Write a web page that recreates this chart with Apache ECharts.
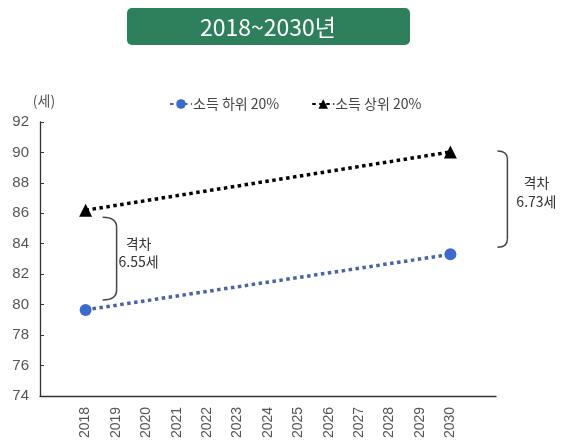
<!DOCTYPE html>
<html><head><meta charset="utf-8">
<script src="https://cdn.jsdelivr.net/npm/echarts@6/dist/echarts.min.js"></script>
<style>html,body{margin:0;padding:0;background:#fff}#c{width:565px;height:441px}</style>
</head><body><div id="c"></div>
<script>
const titleText = '2018~2030년';
const unitText = '(세)';
const years = ['2018','2019','2020','2021','2022','2023','2024','2025','2026','2027','2028','2029','2030'];
const lowerName = '소득 하위 20%';
const upperName = '소득 상위 20%';
const lowerValues = [79.65, null, null, null, null, null, null, null, null, null, null, null, 83.3];
const upperValues = [86.2, null, null, null, null, null, null, null, null, null, null, null, 90.03];
const gapLabels = ['격차\n6.55세', '격차\n6.73세'];
const yTicks = {min: 74, max: 92, interval: 2};

const cats = ['2017', ...years, '2031'];
const pad = v => [null, ...v, null];
const font = "'Liberation Sans','Noto Sans CJK KR',sans-serif";
const kfont = "'Noto Sans CJK KR','Liberation Sans',sans-serif";

const chart = echarts.init(document.getElementById('c'), null, {renderer: 'canvas'});
const option = {
  animation: false,
  backgroundColor: '#fff',
  grid: {left: 40, right: 69, top: 122, bottom: 44, containLabel: false},
  legend: {
    top: 92, left: 164, itemGap: 32, itemWidth: 22, itemHeight: 12,
    textStyle: {fontFamily: kfont, fontSize: 14, color: '#444', padding: [0,0,0,-4]},
    data: [lowerName, upperName]
  },
  xAxis: {
    type: 'category', data: cats, boundaryGap: true,
    axisLine: {lineStyle: {color: '#333', width: 1.3}},
    axisTick: {alignWithLabel: true, inside: true, length: 4, lineStyle: {color: '#333'}},
    axisLabel: {rotate: 90, margin: 11, fontSize: 14, color: '#555', fontFamily: font,
      formatter: v => (years.indexOf(v) >= 0 ? v : '')},
    splitLine: {show: false}
  },
  yAxis: {
    type: 'value', min: yTicks.min, max: yTicks.max, interval: yTicks.interval,
    axisLine: {show: true, lineStyle: {color: '#333', width: 1.3}},
    axisTick: {show: true, inside: true, length: 4, lineStyle: {color: '#333'}},
    axisLabel: {fontSize: 15, color: '#555', margin: 11, fontFamily: font},
    splitLine: {show: false}
  },
  series: [
    {name: lowerName, type: 'line', data: pad(lowerValues), connectNulls: true,
     symbol: 'circle', symbolSize: 12,
     itemStyle: {color: '#3C6BCB'},
     lineStyle: {color: '#4A63A8', width: 3.5, type: [3.5, 3.5]}},
    {name: upperName, type: 'line', data: pad(upperValues), connectNulls: true,
     symbol: 'triangle', symbolSize: 13,
     itemStyle: {color: '#000'},
     lineStyle: {color: '#000', width: 3.5, type: [3.5, 3.5]}}
  ]
};
chart.setOption(option);

const bstyle = {stroke: '#444', lineWidth: 1.5, fill: null};
function bracket(x0, x1, yTop, yBot, r) {
  return [
    {type: 'bezierCurve', silent: true, shape: {x1: x0, y1: yTop, cpx1: x1, cpy1: yTop, x2: x1, y2: yTop + r}, style: bstyle},
    {type: 'line', silent: true, shape: {x1: x1, y1: yTop + r, x2: x1, y2: yBot - r}, style: bstyle},
    {type: 'bezierCurve', silent: true, shape: {x1: x1, y1: yBot - r, cpx1: x1, cpy1: yBot, x2: x0, y2: yBot}, style: bstyle}
  ];
}
const p = (i, v) => chart.convertToPixel({gridIndex: 0}, [cats.indexOf(years[i]), v]);
const last = years.length - 1;
const l0 = p(0, lowerValues[0]), u0 = p(0, upperValues[0]);
const l1 = p(last, lowerValues[last]), u1 = p(last, upperValues[last]);
const tfont = "14px 'Noto Sans CJK KR', sans-serif";
const g = [
  {type: 'rect', shape: {x: 127, y: 8, width: 283, height: 37, r: 5}, style: {fill: '#2E7F5C'}},
  {type: 'text', style: {text: titleText, x: 268, y: 27, align: 'center', verticalAlign: 'middle', fill: '#fff', font: "23px 'Noto Sans CJK KR', sans-serif"}},
  {type: 'text', style: {text: unitText, x: 44, y: 101, align: 'center', verticalAlign: 'middle', fill: '#555', font: tfont}},
  ...bracket(l0[0] + 17, l0[0] + 31, u0[1] + 7, l0[1] - 10, 10),
  {type: 'text', style: {text: gapLabels[0], x: l0[0] + 53, y: (u0[1] + l0[1]) / 2 - 7, align: 'center', verticalAlign: 'middle', fill: '#333', lineHeight: 18, font: tfont}},
  ...bracket(l1[0] + 47, l1[0] + 57, u1[1] - 1, l1[1] - 7, 8),
  {type: 'text', style: {text: gapLabels[1], x: l1[0] + 86, y: (u1[1] + l1[1]) / 2 - 11, align: 'center', verticalAlign: 'middle', fill: '#333', lineHeight: 19, font: tfont}}
];
chart.setOption({graphic: g});
</script></body></html>
